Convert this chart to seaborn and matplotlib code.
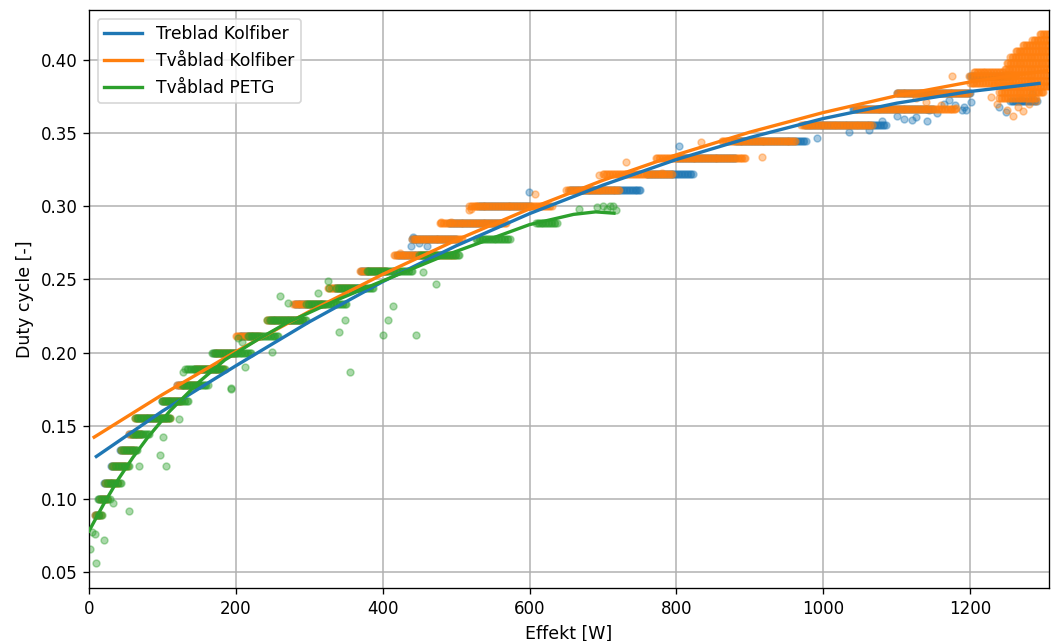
import numpy as np
import pandas as pd
import matplotlib
matplotlib.use("Agg")
import matplotlib.pyplot as plt
import seaborn as sns

C_TRE, C_TVA, C_PETG = "#1f77b4", "#ff7f0e", "#2ca02c"

# ---- Treblad Kolfiber: plateaus (duty level, first / last power of the run) ----
tre_level = [0.0889, 0.1000, 0.1111, 0.1222, 0.1333, 0.1444, 0.1556, 0.1667, 0.1778, 0.1889,
             0.2000, 0.2111, 0.2222, 0.2333, 0.2444, 0.2556, 0.2667, 0.2778, 0.2889, 0.3000,
             0.3111, 0.3222, 0.3333, 0.3444, 0.3556, 0.3667, 0.3778, 0.3889, 0.3720]
tre_start = [8, 14, 20, 30, 42, 55, 65, 100, 120, 145,
             170, 205, 245, 280, 335, 370, 420, 440, 490, 530,
             655, 760, 800, 880, 975, 1040, 1100, 1200, 1255]
tre_end = [14, 22, 35, 48, 60, 72, 105, 125, 150, 180,
           200, 232, 285, 320, 375, 405, 470, 500, 560, 600,
           752, 822, 880, 976, 1085, 1150, 1200, 1250, 1292]
tre_extra_w = [599, 804, 992, 1035, 1063, 1080, 1121, 1126, 1142, 1144, 1189, 1192,
               1201, 1239, 1249, 1269, 1285, 1171, 1194, 441, 450, 460, 443, 439,
               1100, 1110, 1155, 1165, 1180]
tre_extra_d = [0.3096, 0.3414, 0.3465, 0.351, 0.352, 0.358, 0.359, 0.361, 0.358, 0.366, 0.366, 0.368,
               0.3715, 0.368, 0.3647, 0.3727, 0.377, 0.3727, 0.366, 0.279, 0.275, 0.273, 0.278, 0.273,
               0.362, 0.360, 0.364, 0.370, 0.369]

# ---- Tvåblad Kolfiber ----
tva_level = [0.0889, 0.1000, 0.1111, 0.1222, 0.1333, 0.1444, 0.1556, 0.1667, 0.1778, 0.1889,
             0.2000, 0.2111, 0.2222, 0.2333, 0.2444, 0.2556, 0.2667, 0.2778, 0.2889, 0.3000,
             0.3111, 0.3222, 0.3333, 0.3444, 0.3556, 0.3667, 0.3778, 0.3840, 0.3889, 0.3920,
             0.374, 0.378, 0.382, 0.386, 0.390, 0.394, 0.398, 0.402, 0.406, 0.410, 0.414, 0.418]
tva_start = [8, 15, 22, 32, 44, 55, 62, 101, 120, 144,
             171, 200, 242, 278, 325, 369, 415, 440, 478, 518,
             650, 700, 772, 862, 970, 1044, 1100, 1200, 1199, 1205,
             1240, 1240, 1243, 1245, 1245, 1247, 1250, 1255, 1262, 1272, 1285, 1295]
tva_end = [17, 25, 40, 52, 62, 72, 110, 125, 150, 185,
           199, 235, 292, 323, 362, 405, 500, 509, 568, 631,
           722, 795, 895, 963, 1067, 1180, 1199, 1245, 1262, 1245,
           1290, 1300, 1308, 1308, 1308, 1308, 1308, 1308, 1308, 1308, 1308, 1308]
tva_extra_w = [731, 781, 833, 917, 695, 520, 480, 493, 607, 518, 527, 423, 1176, 1233,
               1250, 1258, 1265, 1272, 1280, 1290, 1236, 1228, 1140, 1160, 1126, 1181]
tva_extra_d = [0.330, 0.323, 0.344, 0.334, 0.3214, 0.298, 0.2895, 0.2895, 0.3084, 0.2975, 0.300, 0.268, 0.389, 0.383,
               0.366, 0.362, 0.368, 0.365, 0.370, 0.372, 0.370, 0.375, 0.371, 0.369, 0.374, 0.367]

# ---- Tvåblad PETG ----
petg_level = [0.0889, 0.1000, 0.1111, 0.1222, 0.1333, 0.1444, 0.1556, 0.1667, 0.1778, 0.1889,
              0.2000, 0.2111, 0.2222, 0.2333, 0.2444, 0.2556, 0.2667, 0.2778, 0.2889]
petg_start = [10, 12, 22, 31, 44, 58, 63, 99, 126, 131,
              167, 216, 246, 296, 337, 378, 450, 527, 609]
petg_end = [18, 29, 44, 56, 67, 83, 112, 135, 162, 185,
            221, 258, 296, 351, 387, 441, 505, 573, 637]
petg_extra_w = [1.4, 9.5, 3.6, 8.2, 20.8, 55, 33, 68, 97, 101, 105, 123, 193, 128, 194, 212,
                203, 208, 249, 242, 260, 271, 312, 326, 327, 341, 348, 356, 400, 407, 414, 446,
                455, 473, 668, 692, 700, 706, 710, 713, 718]
petg_extra_d = [0.0658, 0.0564, 0.0776, 0.076, 0.072, 0.0917, 0.097, 0.1225, 0.130, 0.1425, 0.1225, 0.1544, 0.175, 0.187, 0.1756, 0.190,
                0.21, 0.2075, 0.2005, 0.222, 0.239, 0.2337, 0.2405, 0.249, 0.244, 0.214, 0.222, 0.187, 0.212, 0.222, 0.232, 0.212,
                0.255, 0.247, 0.298, 0.2995, 0.300, 0.2985, 0.300, 0.300, 0.2975]

# ---- fitted curves ----
tre_fit_w = [10, 100, 200, 300, 400, 500, 600, 700, 800, 900, 1000, 1100, 1200, 1294]
tre_fit_d = [0.129, 0.160, 0.191, 0.221, 0.2485, 0.273, 0.295, 0.3145, 0.332, 0.347, 0.360, 0.3705, 0.3785, 0.384]
tva_fit_w = [7, 100, 200, 300, 400, 500, 600, 700, 800, 900, 1000, 1100, 1200, 1305]
tva_fit_d = [0.1422, 0.1713, 0.2007, 0.2281, 0.2535, 0.2769, 0.2983, 0.3178, 0.3352, 0.3507, 0.3641, 0.3756, 0.3850, 0.3928]
petg_fit_w = [0, 20, 40, 60, 80, 110, 150, 185, 230, 270, 340, 400, 480, 540, 600, 660, 690, 715]
petg_fit_d = [0.078, 0.0965, 0.1135, 0.1285, 0.1420, 0.1600, 0.1800, 0.1950, 0.209, 0.2205, 0.2365, 0.249, 0.2655,
              0.2765, 0.2875, 0.2945, 0.2962, 0.2953]


def samples(levels, starts, ends, extra_w, extra_d, step=2.0):
    ws, ds = [], []
    for lv, a, b in zip(levels, starts, ends):
        w = np.arange(a, b + 0.01, step)
        ws.append(w)
        ds.append(np.full(len(w), lv))
    ws.append(np.asarray(extra_w, float))
    ds.append(np.asarray(extra_d, float))
    return pd.DataFrame({"W": np.concatenate(ws), "d": np.concatenate(ds)})


df_tre = samples(tre_level, tre_start, tre_end, tre_extra_w, tre_extra_d)
df_tva = samples(tva_level, tva_start, tva_end, tva_extra_w, tva_extra_d)
df_petg = samples(petg_level, petg_start, petg_end, petg_extra_w, petg_extra_d)

DPI = 120
fig, ax = plt.subplots(figsize=(1051 / DPI, 641 / DPI), dpi=DPI)
fig.subplots_adjust(left=89 / 1051, right=1049 / 1051, bottom=(641 - 588) / 641, top=(641 - 10) / 641)

for df, c in [(df_tre, C_TRE), (df_tva, C_TVA), (df_petg, C_PETG)]:
    sns.scatterplot(data=df, x="W", y="d", color=c, s=17, alpha=0.4, edgecolor=c,
                    linewidth=0.9, legend=False, ax=ax, zorder=2)

for w, d, c, lab in [(tre_fit_w, tre_fit_d, C_TRE, "Treblad Kolfiber"),
                     (tva_fit_w, tva_fit_d, C_TVA, "Tvåblad Kolfiber"),
                     (petg_fit_w, petg_fit_d, C_PETG, "Tvåblad PETG")]:
    sns.lineplot(x=w, y=d, color=c, linewidth=2, label=lab, ax=ax, estimator=None, zorder=3)

ax.set_xlim(0, 1307.5)
ax.set_ylim(0.0391, 0.4342)
ax.set_xticks([0, 200, 400, 600, 800, 1000, 1200])
ax.set_yticks([0.05, 0.10, 0.15, 0.20, 0.25, 0.30, 0.35, 0.40])
ax.set_yticklabels([f"{v:.2f}" for v in [0.05, 0.10, 0.15, 0.20, 0.25, 0.30, 0.35, 0.40]])
ax.grid(True, color="#b0b0b0", linewidth=0.9)
ax.set_axisbelow(True)
ax.set_xlabel("Effekt [W]", fontsize=10.4)
ax.set_ylabel("Duty cycle [-]", fontsize=10.4)
ax.legend(loc="upper left", fontsize=10.3, handlelength=2.2)

fig.savefig("out.png", dpi=DPI)
